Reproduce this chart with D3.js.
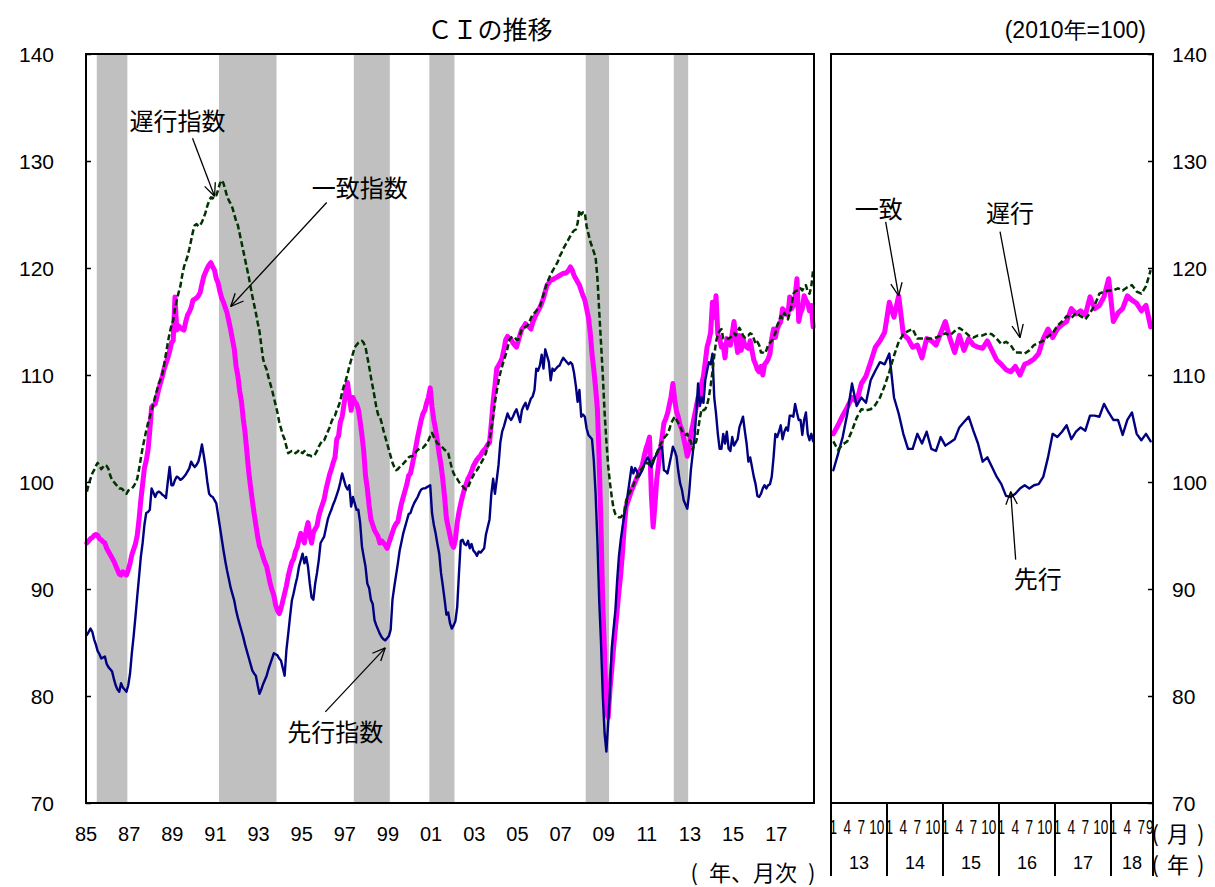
<!DOCTYPE html>
<html><head><meta charset="utf-8">
<script src="https://cdn.jsdelivr.net/npm/d3@7/dist/d3.min.js"></script>
<style>body{margin:0;background:#fff}svg{display:block}</style>
</head><body>
<svg id="chart" width="1215" height="887"></svg>
<script>
// ===== DATA (monthly, Jan 1985 - Sep 2018, 2010=100) =====
const startMonth = "1985-01";
const endMonth = "2018-09";
const coincident = [
 94.3,94.5,94.7,94.8,95.0,95.1,95.0,94.7,94.6,94.4,94.3,93.8, // 1985
 93.5,93.2,92.9,92.6,92.2,91.8,91.4,91.3,91.6,91.5,91.3,91.8, // 1986
 92.4,93.2,93.7,94.2,95.0,96.5,98.3,99.8,101.3,102.0,103.0,104.8, // 1987
 107.0,107.2,107.3,108.0,108.7,109.3,109.9,110.6,111.1,111.6,112.2,113.0, // 1988
 113.2,117.3,114.2,114.6,114.4,114.3,114.2,115.0,115.6,115.9,116.3,117.0, // 1989
 117.1,117.2,117.4,117.7,118.5,119.2,119.6,120.0,120.3,120.5,120.1,119.8, // 1990
 119.0,118.6,117.8,117.2,116.8,116.3,115.8,115.0,114.2,113.3,112.4,110.8, // 1991
 109.9,108.5,107.5,105.9,104.6,102.8,101.0,99.6,98.3,97.1,96.0,94.9, // 1992
 94.0,93.6,93.0,92.5,92.1,91.3,90.5,89.9,89.4,88.5,88.0,87.7, // 1993
 88.2,88.9,89.6,90.3,91.2,91.9,92.5,92.8,93.5,93.9,94.6,95.2, // 1994
 94.8,94.3,95.5,96.2,95.0,94.3,95.3,95.6,95.9,96.8,97.4,97.9, // 1995
 98.4,99.3,100.0,100.7,101.2,101.8,102.3,104.0,104.3,105.6,106.1,107.2, // 1996
 108.4,109.3,108.0,106.7,107.9,107.5,107.3,106.8,105.7,104.4,102.9,100.6, // 1997
 99.4,97.8,96.5,96.0,95.5,95.2,94.9,94.3,94.5,94.3,94.1,93.8, // 1998
 94.3,94.8,95.3,95.8,96.1,96.3,97.2,98.0,98.6,99.2,99.8,100.6, // 1999
 100.8,101.6,102.4,103.3,104.2,105.0,105.8,106.4,106.7,107.4,107.9,108.8, // 2000
 107.0,105.8,104.9,103.8,102.6,101.6,100.2,98.6,96.6,95.8,95.0,94.2, // 2001
 93.9,94.6,96.2,97.2,98.0,98.7,99.3,99.8,100.3,100.6,101.0,101.5, // 2002
 101.8,102.1,102.3,102.5,102.8,103.0,103.2,103.5,103.7,105.5,107.5,109.0, // 2003
 110.6,110.9,111.2,111.6,112.4,113.3,113.6,113.4,113.3,113.0,112.8,112.6, // 2004
 113.2,113.8,114.3,114.5,114.8,114.6,114.5,114.3,114.9,115.3,115.7,116.0, // 2005
 116.3,116.7,117.2,117.8,118.4,118.6,118.9,118.9,119.0,119.1,119.2,119.3, // 2006
 119.4,119.5,119.5,119.6,119.8,120.1,119.8,119.3,119.0,118.7,118.4,117.9, // 2007
 117.4,117.0,116.2,115.4,114.0,112.0,110.5,108.8,106.8,102.0,96.0,88.5, // 2008
 84.0,78.5,78.0,80.6,82.5,84.5,86.3,88.0,89.8,91.4,93.5,96.0, // 2009
 97.7,98.2,98.7,99.2,99.6,100.0,100.4,100.8,101.2,101.6,102.4,103.1, // 2010
 103.6,104.2,98.9,95.8,97.8,100.2,101.6,103.0,104.2,105.5,105.9,106.4, // 2011
 107.2,108.0,109.2,107.7,106.6,106.1,105.3,104.9,104.1,103.3,102.4,103.0, // 2012
 104.5,105.3,106.2,107.0,107.9,107.5,109.2,109.9,111.2,112.6,113.2,114.0, // 2013
 116.8,115.4,117.4,113.8,113.4,112.6,112.8,111.6,113.4,113.2,112.8,113.9, // 2014
 115.0,113.4,112.1,113.7,112.3,113.4,112.8,112.6,112.5,113.2,112.3,111.4, // 2015
 111.0,110.5,110.3,110.8,110.0,111.0,111.2,111.5,112.0,113.4,114.3,113.5, // 2016
 114.3,114.7,115.0,116.2,115.7,116.0,115.6,117.3,116.2,116.5,117.3,119.0, // 2017
 115.0,115.8,116.2,117.4,117.0,116.7,116.0,116.5,114.5 // 2018
];
const leading = [
 85.7,86.0,86.3,86.0,85.3,84.8,84.2,83.9,83.5,83.6,83.7,83.0, // 1985
 82.7,82.5,82.3,81.6,81.0,80.6,80.4,81.2,80.8,80.6,80.4,81.0, // 1986
 82.1,84.0,85.6,87.4,89.3,91.1,93.0,94.3,96.0,97.1,97.2,97.4, // 1987
 99.4,99.0,98.6,99.0,99.1,99.0,98.8,98.7,98.5,100.0,101.4,99.7, // 1988
 99.7,100.2,100.5,100.4,100.2,100.3,100.5,100.7,101.0,101.3,101.9,101.6, // 1989
 101.4,101.6,101.9,102.6,103.5,102.5,101.4,100.0,98.9,98.7,98.6,98.3, // 1990
 98.0,96.9,95.8,94.7,93.6,92.6,91.7,90.9,90.1,89.5,88.9,88.0, // 1991
 87.3,86.7,86.1,85.5,84.8,84.2,83.6,83.0,82.4,82.1,81.9,81.0, // 1992
 80.2,80.6,81.1,81.5,81.9,82.5,83.0,83.5,84.0,83.9,83.8,83.5, // 1993
 83.3,82.6,81.9,84.3,85.8,87.4,88.9,89.6,90.4,91.1,92.1,92.7, // 1994
 93.3,92.4,93.0,92.1,90.5,89.2,89.0,90.5,91.5,92.7,94.3,94.6, // 1995
 94.9,95.7,96.5,97.0,97.4,97.9,98.3,98.8,99.3,100.0,100.8,100.2, // 1996
 99.6,99.3,99.7,97.7,98.6,98.0,97.4,97.4,96.2,94.0,93.0,92.1, // 1997
 90.5,90.1,89.0,88.6,87.1,86.6,86.2,85.8,85.5,85.3,85.2,85.4, // 1998
 85.6,86.2,89.0,90.2,91.3,92.4,93.6,94.4,95.2,95.8,96.4,97.0, // 1999
 97.1,97.6,98.0,98.3,98.6,99.0,99.3,99.4,99.4,99.5,99.6,99.7, // 2000
 97.1,96.0,95.2,94.2,93.3,91.5,90.3,89.0,87.6,87.8,86.8,86.3, // 2001
 86.6,87.0,88.3,91.5,94.5,94.6,94.2,94.1,94.5,93.8,94.2,93.6, // 2002
 93.4,93.1,93.5,93.4,93.6,93.8,95.1,95.8,96.5,98.9,100.3,98.9, // 2003
 100.2,101.6,103.7,104.7,105.2,105.8,106.4,106.0,105.8,106.1,106.5,106.8, // 2004
 106.2,105.6,106.7,107.1,107.4,106.8,107.3,107.8,108.0,108.6,110.6,110.4, // 2005
 110.9,111.9,110.6,112.4,111.8,111.2,109.5,110.6,110.4,110.6,110.8,110.9, // 2006
 111.3,111.6,111.4,111.2,111.0,111.2,111.0,110.2,109.0,107.5,108.6,106.1, // 2007
 106.3,106.1,105.0,104.4,104.2,104.0,102.0,98.9,94.5,89.0,85.0,80.0, // 2008
 76.5,74.8,77.5,80.5,84.5,86.3,88.0,90.8,93.1,94.6,95.8,97.0, // 2009
 97.8,99.0,100.2,101.4,100.8,101.3,101.0,100.5,100.8,101.1,101.6,102.0, // 2010
 102.3,102.0,101.4,101.8,102.3,102.6,103.0,103.2,103.3,101.1,101.0,100.8, // 2011
 101.6,102.4,103.3,102.9,102.4,101.0,99.9,99.3,98.3,97.9,97.5,98.9, // 2012
 101.1,102.6,104.2,106.4,109.2,107.1,107.9,107.4,109.5,110.4,111.2,111.0, // 2013
 112.0,107.9,106.4,104.5,103.1,103.1,104.5,103.6,104.7,103.1,102.9,104.2, // 2014
 103.4,103.7,104.0,105.1,105.6,106.1,104.8,103.6,101.9,102.3,101.4,100.5, // 2015
 99.8,98.7,98.6,98.9,99.4,99.7,99.4,99.7,99.8,100.5,102.3,104.5, // 2016
 104.2,104.7,105.3,104.0,104.7,105.1,104.8,106.2,106.2,106.1,107.3,106.5, // 2017
 105.8,105.8,104.4,105.8,106.5,104.5,103.9,104.5,103.8 // 2018
];
const lagging = [
 99.1,99.8,100.3,100.8,101.1,101.5,101.8,101.5,101.2,101.4,101.6,101.5, // 1985
 101.2,100.6,100.2,100.0,99.8,99.6,99.4,99.4,99.3,99.0,98.9,99.2, // 1986
 99.3,99.4,99.6,99.9,100.3,101.2,102.2,103.2,104.0,104.8,105.5,106.1, // 1987
 106.7,107.3,108.0,108.6,109.2,109.6,110.1,111.0,112.0,113.0,113.9,114.6, // 1988
 115.1,116.2,117.0,117.7,118.3,119.3,120.1,120.6,121.1,121.8,122.6,123.4, // 1989
 124.0,124.1,123.9,124.0,124.3,124.7,125.2,125.8,126.3,126.6,126.5,126.8, // 1990
 126.8,127.3,127.9,128.2,127.9,127.3,126.7,126.3,126.0,125.6,125.0,124.4, // 1991
 124.0,123.2,122.4,121.6,120.8,120.0,119.2,118.3,117.4,116.6,115.8,114.9, // 1992
 114.1,112.8,111.5,110.9,110.5,109.8,109.2,108.6,107.9,107.2,106.5,105.6, // 1993
 105.0,104.4,104.0,103.3,102.7,102.8,102.9,102.9,102.7,102.8,103.0,102.8, // 1994
 102.7,102.9,102.6,102.5,102.5,102.4,102.4,102.6,102.9,103.3,103.6,103.9, // 1995
 103.9,104.3,104.7,105.1,105.6,106.0,106.2,106.7,107.1,107.6,108.4,109.0, // 1996
 109.5,110.1,110.8,111.4,112.0,112.6,112.8,113.0,113.1,113.2,113.0,112.6, // 1997
 111.7,110.8,109.8,108.9,108.0,107.0,106.3,106.1,105.5,104.8,104.2,103.6, // 1998
 103.0,102.4,101.8,101.4,101.1,101.2,101.4,101.6,101.7,101.9,102.1,102.3, // 1999
 102.4,102.4,102.6,102.8,103.0,103.1,103.2,103.2,103.4,103.6,103.9,104.3, // 2000
 104.6,104.2,103.9,103.6,103.5,103.3,103.2,103.0,102.9,102.7,102.0,101.3, // 2001
 100.8,100.5,100.3,100.0,99.8,99.6,99.4,99.3,99.5,99.9,100.3,100.6, // 2002
 101.0,101.1,101.4,101.7,102.0,102.3,102.7,103.4,104.0,105.0,106.1,107.4, // 2003
 108.5,109.4,110.2,110.8,111.4,111.9,112.5,113.3,113.5,113.6,113.5,113.3, // 2004
 113.3,113.8,114.3,114.4,114.5,114.6,114.9,115.3,115.7,115.8,116.0,116.2, // 2005
 116.4,116.9,117.5,118.1,118.6,119.0,119.4,119.7,120.0,120.3,120.6,121.1, // 2006
 121.4,121.8,122.1,122.4,122.7,123.0,123.3,123.5,123.6,124.2,125.4,125.0, // 2007
 125.2,125.2,123.9,123.2,122.5,122.0,121.5,121.0,119.1,116.0,113.0,110.0, // 2008
 106.5,103.8,101.5,99.9,98.6,97.5,97.0,96.8,96.7,96.7,96.9,97.2, // 2009
 98.3,98.7,99.0,99.3,99.7,100.2,100.5,100.8,101.1,101.3,101.5,101.7, // 2010
 101.8,101.6,101.6,102.0,102.4,102.7,103.1,103.5,103.8,104.1,104.3,104.5, // 2011
 104.9,105.5,105.8,106.1,105.8,105.5,105.2,104.8,104.5,104.4,104.5,104.0, // 2012
 103.8,103.0,103.5,103.8,104.8,106.0,106.8,106.7,106.8,107.2,107.9,109.0, // 2013
 110.3,111.8,113.1,113.8,114.1,114.3,113.4,113.4,113.4,113.4,113.5,113.7, // 2014
 113.9,113.7,114.1,114.4,114.1,113.7,113.5,113.7,113.7,113.9,113.8,113.4, // 2015
 112.9,113.1,112.8,112.1,112.1,112.0,112.3,112.8,113.0,113.2,113.6,113.9, // 2016
 114.6,115.0,115.5,115.3,115.8,115.5,115.2,115.8,116.5,117.6,117.8,117.9, // 2017
 117.9,118.1,117.9,118.2,118.4,117.8,117.6,118.3,119.8 // 2018
];
// recession periods (peak month, trough month); shading after peak through trough
const recessions = [
 ["1985-06","1986-11"], ["1991-02","1993-10"], ["1997-05","1999-01"],
 ["2000-11","2002-01"], ["2008-02","2009-03"], ["2012-03","2012-11"]
];
const yTicks = [70, 80, 90, 100, 110, 120, 130, 140];
const leftXTickLabels = ["85","87","89","91","93","95","97","99","01","03","05","07","09","11","13","15","17"];
const rightStart = "2013-01";
const rightMonthLabels = ["1","4","7","10"];
const rightYearLabels = ["13","14","15","16","17","18"];
const seriesNames = { coincident: "一致指数", leading: "先行指数", lagging: "遅行指数" };

// ===== LAYOUT =====
const fmt = d3.timeFormat("%Y-%m");
const parse = d3.timeParse("%Y-%m");
const monthKeys = d3.timeMonth.range(parse(startMonth), d3.timeMonth.offset(parse(endMonth), 1)).map(fmt);
const P = { top: 54, bottom: 803, lx0: 86, lx1: 814, rx0: 831, rx1: 1153 };
const jp = "'Noto Sans CJK JP','Noto Sans',sans-serif";
const num = "'Liberation Sans',Arial,sans-serif";

const svg = d3.select("#chart");
const y = d3.scaleLinear().domain([70, 140]).range([P.bottom, P.top]);
const xL = d3.scaleBand().domain(monthKeys).range([P.lx0, P.lx1]).padding(0);
const rKeys = monthKeys.slice(monthKeys.indexOf(rightStart));
const xR = d3.scaleBand().domain(rKeys).range([P.rx0, P.rx1]).padding(0);

// recession shading (left panel)
svg.append("g").selectAll("rect").data(recessions).join("rect")
  .attr("x", d => xL(d[0]) + xL.bandwidth())
  .attr("width", d => xL(d[1]) - xL(d[0]))
  .attr("y", P.top).attr("height", P.bottom - P.top)
  .attr("fill", "#c0c0c0");

const styles = {
  coincident: { stroke: "#ff00ff", width: 5, dash: null },
  leading: { stroke: "#000080", width: 2.4, dash: null },
  lagging: { stroke: "#003300", width: 2.5, dash: "6,3" }
};
const seriesData = { coincident, leading, lagging };

function drawPanel(xs, keys) {
  const g = svg.append("g");
  ["coincident", "leading", "lagging"].forEach(name => {
    const vals = seriesData[name];
    const pts = keys.map(k => ({ k, v: vals[monthKeys.indexOf(k)] }));
    const st = styles[name];
    g.append("path").datum(pts)
      .attr("d", d3.line().x(d => xs(d.k) + xs.bandwidth() / 2).y(d => y(d.v)))
      .attr("fill", "none").attr("stroke", st.stroke).attr("stroke-width", st.width)
      .attr("stroke-linejoin", "round").attr("stroke-linecap", st.dash ? "butt" : "round")
      .attr("stroke-dasharray", st.dash);
  });
}
drawPanel(xL, monthKeys);
drawPanel(xR, rKeys);

// frames
svg.append("rect").attr("x", P.lx0).attr("y", P.top).attr("width", P.lx1 - P.lx0).attr("height", P.bottom - P.top)
  .attr("fill", "none").attr("stroke", "#000").attr("stroke-width", 2);
svg.append("rect").attr("x", P.rx0).attr("y", P.top).attr("width", P.rx1 - P.rx0).attr("height", P.bottom - P.top)
  .attr("fill", "none").attr("stroke", "#000").attr("stroke-width", 2);

// y axes (ticks inward)
const leftAxis = d3.axisRight(y).tickValues(yTicks).tickSize(5).tickFormat("");
svg.append("g").attr("transform", `translate(${P.lx0},0)`).call(leftAxis)
  .call(g => g.select(".domain").remove())
  .call(g => g.selectAll("line").attr("stroke", "#000").attr("stroke-width", 1.5));
const rightAxis = d3.axisLeft(y).tickValues(yTicks).tickSize(5).tickFormat("");
svg.append("g").attr("transform", `translate(${P.rx1},0)`).call(rightAxis)
  .call(g => g.select(".domain").remove())
  .call(g => g.selectAll("line").attr("stroke", "#000").attr("stroke-width", 1.5));

// y labels
svg.append("g").selectAll("text").data(yTicks).join("text")
  .attr("x", 54).attr("y", d => y(d)).attr("text-anchor", "end").attr("dominant-baseline", "central")
  .attr("font-family", num).attr("font-size", 21).text(d => d);
svg.append("g").selectAll("text").data(yTicks).join("text")
  .attr("x", 1172).attr("y", d => y(d)).attr("text-anchor", "start").attr("dominant-baseline", "central")
  .attr("font-family", num).attr("font-size", 21).text(d => d);

// left x labels
svg.append("g").selectAll("text").data(leftXTickLabels).join("text")
  .attr("x", d => xL(((+d < 50) ? 2000 + +d : 1900 + +d) + "-01"))
  .attr("y", 834).attr("text-anchor", "middle").attr("dominant-baseline", "central")
  .attr("font-family", num).attr("font-size", 20).text(d => d);

// parenthesised unit labels built from separate glyph groups
function parenLabel(cx, cy, inner, innerW, size) {
  const g = svg.append("g").attr("font-family", jp).attr("font-size", size);
  g.append("text").attr("x", cx - innerW / 2 - 8).attr("y", cy).attr("text-anchor", "end")
    .attr("dominant-baseline", "central").text("(");
  g.append("text").attr("x", cx).attr("y", cy).attr("text-anchor", "middle")
    .attr("dominant-baseline", "central").text(inner);
  g.append("text").attr("x", cx + innerW / 2 + 8).attr("y", cy).attr("text-anchor", "start")
    .attr("dominant-baseline", "central").text(")");
}
parenLabel(753, 871, "年、月次", 94, 22);
parenLabel(1178, 832, "月", 22, 22);
parenLabel(1178, 863, "年", 22, 22);

// right bottom axis
const yearStarts = rightYearLabels.map(l => "20" + l + "-01");
const sepXs = yearStarts.map(k => xR(k)).concat([P.rx1]);
svg.append("g").selectAll("line").data(sepXs).join("line")
  .attr("x1", d => d).attr("x2", d => d).attr("y1", P.bottom).attr("y2", 876)
  .attr("stroke", "#000").attr("stroke-width", 2);
const lastKey = rKeys[rKeys.length - 1];
const monthTickKeys = rKeys.filter(k => rightMonthLabels.includes(String(+k.slice(5))) || k === lastKey);
svg.append("g").selectAll("text").data(monthTickKeys).join("text")
  .attr("transform", d => {
    const m = +d.slice(5);
    const dx = m === 10 ? 1.5 : (d === lastKey ? -1 : 0);
    return `translate(${xR(d) + xR.bandwidth() / 2 + dx},828) scale(0.68,1)`;
  })
  .attr("text-anchor", "middle").attr("dominant-baseline", "central")
  .attr("font-family", num).attr("font-size", 20).text(d => String(+d.slice(5)));
svg.append("g").selectAll("text").data(rightYearLabels).join("text")
  .attr("x", (d, i) => (sepXs[i] + sepXs[i + 1]) / 2).attr("y", 863)
  .attr("text-anchor", "middle").attr("dominant-baseline", "central")
  .attr("font-family", num).attr("font-size", 18).text(d => d);

// titles
svg.append("text").attr("x", 490).attr("y", 28).attr("text-anchor", "middle").attr("dominant-baseline", "central")
  .attr("font-family", jp).attr("font-size", 25).text("ＣＩの推移");
svg.append("text").attr("x", 1146).attr("y", 30).attr("text-anchor", "end").attr("dominant-baseline", "central")
  .attr("font-family", num).attr("font-size", 23).text("(2010年=100)");

// annotations: tip at (month, value) on a panel; start & label as pixel offsets from tip
const annotations = [
  { panel: "L", text: seriesNames.lagging, tip: ["1990-12", 126.7], from: [-22, -58], label: [-37, -77] },
  { panel: "L", text: seriesNames.coincident, tip: ["1991-09", 116.4], from: [96, -104], label: [129, -120] },
  { panel: "L", text: seriesNames.leading, tip: ["1998-11", 84.5], from: [-60, 64], label: [-50, 83] },
  { panel: "R", text: "一致", tip: ["2014-03", 117.4], from: [-13, -74], label: [-20, -88] },
  { panel: "R", text: "遅行", tip: ["2016-05", 113.5], from: [-20, -106], label: [-10, -126] },
  { panel: "R", text: "先行", tip: ["2016-03", 99.1], from: [5, 68], label: [27, 86] }
];
const ag = svg.append("g");
annotations.forEach(a => {
  const xs = a.panel === "L" ? xL : xR;
  const tx = xs(a.tip[0]) + xs.bandwidth() / 2, ty = y(a.tip[1]);
  const sx = tx + a.from[0], sy = ty + a.from[1];
  ag.append("line").attr("x1", sx).attr("y1", sy).attr("x2", tx).attr("y2", ty)
    .attr("stroke", "#000").attr("stroke-width", 1.3);
  const ang = Math.atan2(ty - sy, tx - sx), len = 14, spread = 0.42;
  [ang + Math.PI - spread, ang + Math.PI + spread].forEach(t => {
    ag.append("line").attr("x1", tx).attr("y1", ty)
      .attr("x2", tx + len * Math.cos(t)).attr("y2", ty + len * Math.sin(t))
      .attr("stroke", "#000").attr("stroke-width", 1.3);
  });
  ag.append("text").attr("x", tx + a.label[0]).attr("y", ty + a.label[1])
    .attr("text-anchor", "middle").attr("dominant-baseline", "central")
    .attr("font-family", jp).attr("font-size", 24).text(a.text);
});
</script>
</body></html>
